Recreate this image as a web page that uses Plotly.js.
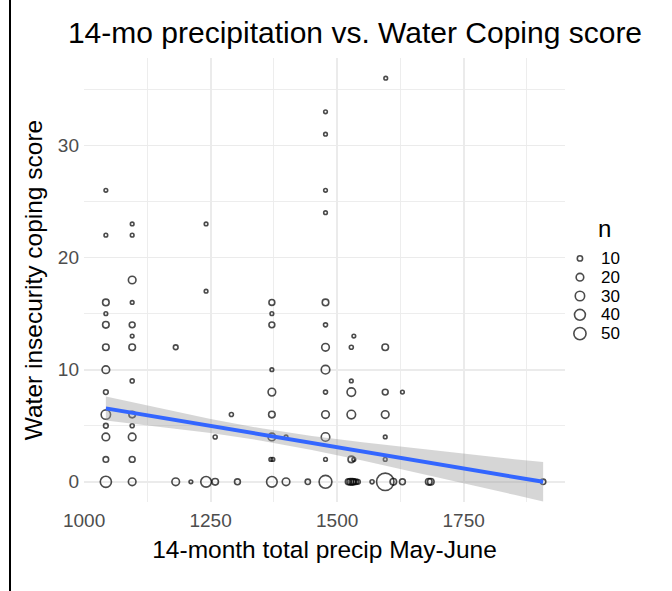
<!DOCTYPE html>
<html>
<head>
<meta charset="utf-8">
<script src="https://cdn.plot.ly/plotly-3.0.1.min.js"></script>
<style>html,body{margin:0;padding:0;background:#fff;}#chart{width:672px;height:591px;}</style>
</head>
<body>
<div id="chart"></div>
<script>
// ---- data ----
const precip = [
  1043,1043,1043,1043,1043,1043,1043,1043,1043,1043,1043,1043,1043,
  1095,1095,1095,1095,1095,1095,1095,1095,1095,1095,1095,1095,1095,
  1181,1181,1211,1241,1241,1241,1259,1259,1291,1303,
  1371,1371,1371,1371,1371,1371,1371,1369,1373,1371,
  1399,1399,1442,
  1477,1477,1477,1477,1477,1477,1477,1477,1477,1477,1477,1477,1477,
  1533,1528,1528,1528,1528,1528,1533,
  1522,1526,1530,1533,1537,1541,
  1569,
  1596,1595,1595,1595,1595,1595,1595,
  1611,1629,1629,1681,1685,1907
];
const coping = [
  26,22,16,15,14,12,10,8,6,5,4,2,0,
  23,22,18,16,14,13,12,9,6,5,4,2,0,
  12,0,0,23,17,0,4,0,6,0,
  16,15,14,10,8,6,4,2,2,0,
  4,0,0,
  33,31,26,24,16,14,12,10,8,6,4,2,0,
  13,12,9,8,6,2,2,
  0,0,0,0,0,0,
  0,
  36,12,8,6,4,2,0,
  0,8,0,0,0,0
];
const counts = [
  5,5,15,5,15,15,20,8,30,8,20,11,42,
  5,5,20,5,12,5,15,6,15,6,20,12,20,
  8,20,5,5,5,38,6,15,6,12,
  12,5,12,5,20,15,20,5,5,38,
  5,20,10,
  5,5,5,5,15,6,20,25,6,20,25,5,55,
  5,6,5,25,25,15,5,
  12,15,15,12,10,8,
  6,
  5,15,12,20,5,5,100,
  15,5,12,15,15,10
];
// linear fit (geom_smooth, method = lm)
const fitX     = [1043, 1150, 1250, 1350, 1450, 1550, 1650, 1750, 1850, 1907];
const fitY     = [6.55, 5.74, 4.98, 4.22, 3.46, 2.71, 1.95, 1.19, 0.43, 0.00];
const fitUpper = [7.62, 6.55, 5.60, 4.77, 4.08, 3.52, 3.00, 2.51, 2.02, 1.76];
const fitLower = [5.48, 4.93, 4.36, 3.67, 2.84, 1.90, 0.90, -0.13, -1.16, -1.76];
// legend
const legendN = [10, 20, 30, 40, 50];
const xTicks = [1000, 1250, 1500, 1750];
const yTicks = [0, 10, 20, 30];

// ---- styling ----
const LW = 1.6;
function diam(n){ return 1.3 + 1.77*Math.sqrt(n) - LW; }
const FONT = 'Liberation Sans, Arial, Helvetica, sans-serif';
const TICK = '#4D4D4D';
const GRID = '#EBEBEB';

const traces = [
  {x: precip, y: coping, type:'scatter', mode:'markers', hoverinfo:'skip',
   marker:{size: counts.map(diam), color:'rgba(0,0,0,0)', line:{color:'#000', width:LW}},
   showlegend:false, cliponaxis:false},
  {x: fitX, y: fitLower, type:'scatter', mode:'lines', line:{width:0, color:'rgba(0,0,0,0)'}, showlegend:false, hoverinfo:'skip'},
  {x: fitX, y: fitUpper, type:'scatter', mode:'lines', line:{width:0, color:'rgba(0,0,0,0)'}, fill:'tonexty', fillcolor:'rgba(153,153,153,0.4)', showlegend:false, hoverinfo:'skip'},
  {x: fitX, y: fitY, type:'scatter', mode:'lines', line:{color:'#3366FF', width:4}, showlegend:false, hoverinfo:'skip'},
  {x: legendN.map(()=>0.096), y: legendN.map((v,i)=>i), xaxis:'x2', yaxis:'y2', type:'scatter', mode:'markers',
   marker:{size: legendN.map(diam), color:'rgba(0,0,0,0)', line:{color:'#000', width:LW}}, showlegend:false, hoverinfo:'skip'}
];

const annotations = legendN.map((v,i)=>({
  x: 0.29, y: i, xref:'x2', yref:'y2', text: String(v), showarrow:false, xanchor:'left', yanchor:'middle',
  font:{family:FONT, size:17, color:'#000'}
}));
annotations.push({x: (604-84)/586, y: (502-229)/444, xref:'paper', yref:'paper', text:'n', showarrow:false,
  xanchor:'center', yanchor:'middle', font:{family:FONT, size:24, color:'#000'}});

const layout = {
  width:672, height:591,
  margin:{l:84, r:2, t:58, b:89, pad:0},
  paper_bgcolor:'#fff', plot_bgcolor:'#fff',
  font:{family:FONT, color:'#000'},
  title:{text:'14-mo precipitation vs. Water Coping score', x:355/672, xanchor:'center', y:1-32/591, yanchor:'middle',
         font:{family:FONT, size:30, color:'#000'}},
  xaxis:{domain:[0, 481/586], range:[999.8, 1950.2], tickvals:xTicks, ticktext:xTicks.map(String),
         showgrid:true, gridcolor:GRID, gridwidth:1.8, zeroline:false, showline:false, ticks:'',
         ticklabelstandoff:5,
         tickfont:{family:FONT, size:19, color:TICK},
         minor:{dtick:125, tick0:1000, showgrid:true, gridcolor:GRID, gridwidth:0.9},
         title:{text:'14-month total precip May-June', font:{family:FONT, size:24.5, color:'#000'}, standoff:10}},
  yaxis:{range:[-1.8, 37.8], tickvals:yTicks, ticktext:yTicks.map(String),
         showgrid:true, gridcolor:GRID, gridwidth:1.8, zeroline:false, showline:false, ticks:'',
         ticklabelstandoff:4,
         tickfont:{family:FONT, size:19, color:TICK},
         minor:{dtick:5, tick0:0, showgrid:true, gridcolor:GRID, gridwidth:0.9},
         title:{text:'Water insecurity coping score', font:{family:FONT, size:24.5, color:'#000'}, standoff:8}},
  xaxis2:{domain:[0.83, 1], anchor:'y2', range:[0,1], visible:false, fixedrange:true},
  yaxis2:{domain:[(502-343)/444, (502-249)/444], anchor:'x2', range:[4.5,-0.5], visible:false, fixedrange:true},
  annotations: annotations,
  shapes:[{type:'line', xref:'paper', yref:'paper', x0:(10-84)/586, x1:(10-84)/586, y0:(502-591)/444, y1:502/444,
           line:{color:'#000', width:2}}],
  showlegend:false
};

Plotly.newPlot('chart', traces, layout, {staticPlot:true, displayModeBar:false});
</script>
</body>
</html>
